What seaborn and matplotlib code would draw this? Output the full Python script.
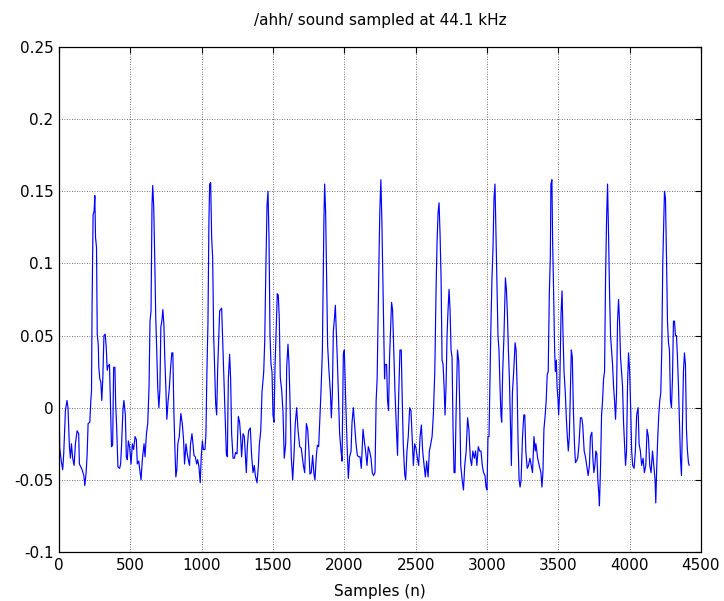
import matplotlib
matplotlib.use("Agg")
import matplotlib.pyplot as plt
import seaborn as sns
import pandas as pd

# ---- data (sample index, amplitude) ----
seg1_n = [0, 5, 16, 26, 33, 45, 56, 63, 73, 80,
          87, 96, 106, 115, 127, 138, 143, 162, 174, 181,
          190, 197, 204, 216, 223, 228, 232, 239, 246, 251,
          256, 263, 268, 275, 279, 286, 293, 300, 307, 315,
          324, 331, 338, 345, 354, 361, 368, 376, 383, 392,
          397, 404, 413, 425, 432, 439, 448, 455, 465, 472,
          479, 486, 495, 505, 514, 523, 533, 542, 549, 559,
          566, 575, 584, 596, 603, 613, 622, 631, 638, 645,
          652, 657, 664, 671, 678, 685, 692, 700, 707, 714,
          721, 728, 735, 742, 749, 756, 765, 772, 784, 791,
          798, 805, 812, 819, 826, 833, 843, 854, 864, 873,
          880, 890, 899, 906, 915, 922, 932, 939, 946, 955,
          965, 972, 981, 990, 997, 1005, 1012, 1023, 1030, 1037,
          1044, 1051, 1056, 1063, 1070, 1077, 1084, 1091, 1098, 1105,
          1112]
seg1_amp = [0.007, -0.028, -0.037, -0.043, -0.032, -0.002, 0.005, 0.0, -0.027, -0.035,
            -0.025, -0.035, -0.040, -0.025, -0.016, -0.018, -0.039, -0.043, -0.047, -0.054,
            -0.045, -0.033, -0.011, -0.010, 0.005, 0.012, 0.072, 0.134, 0.136, 0.147,
            0.118, 0.111, 0.051, 0.044, 0.028, 0.020, 0.018, 0.005, 0.020, 0.050,
            0.051, 0.042, 0.026, 0.029, 0.030, 0.002, -0.027, -0.026, 0.028, 0.028,
            0.003, -0.013, -0.041, -0.042, -0.039, -0.025, -0.002, 0.005, -0.005, -0.034,
            -0.036, -0.023, -0.027, -0.039, -0.025, -0.029, -0.020, -0.022, -0.039, -0.037,
            -0.043, -0.050, -0.036, -0.025, -0.034, -0.018, -0.011, 0.014, 0.060, 0.067,
            0.141, 0.154, 0.139, 0.104, 0.063, 0.040, 0.014, 0.000, 0.012, 0.056,
            0.060, 0.068, 0.058, 0.033, 0.014, -0.008, 0.005, 0.012, 0.030, 0.038,
            0.038, -0.002, -0.027, -0.048, -0.043, -0.025, -0.020, -0.004, -0.011, -0.022,
            -0.039, -0.025, -0.032, -0.036, -0.040, -0.025, -0.018, -0.025, -0.033, -0.034,
            -0.039, -0.036, -0.041, -0.052, -0.034, -0.023, -0.029, -0.029, -0.018, 0.026,
            0.058, 0.130, 0.155, 0.156, 0.118, 0.104, 0.051, 0.026, 0.003, -0.005,
            0.026]

seg2_n = [1126, 1140, 1147, 1154, 1164, 1173, 1180, 1187, 1196, 1203,
          1210, 1220, 1229, 1238, 1248, 1257, 1266, 1273, 1280, 1290,
          1299, 1306, 1313, 1320, 1329, 1341, 1350, 1360, 1369, 1376,
          1388, 1397, 1404, 1414, 1423, 1435, 1442, 1449, 1458, 1465,
          1472, 1479, 1486, 1493, 1500, 1507, 1514, 1523, 1530, 1537,
          1544, 1551, 1561, 1570, 1579, 1589, 1596, 1605, 1612, 1619,
          1628, 1638, 1647, 1656, 1666, 1675, 1687, 1698, 1713, 1722,
          1734, 1743, 1752, 1759, 1768, 1778, 1787, 1794, 1804, 1811,
          1820, 1827, 1836, 1846, 1853, 1857, 1862, 1869, 1876, 1883,
          1892, 1902, 1909, 1916, 1923, 1930, 1937, 1944, 1951, 1958,
          1967, 1977, 1984, 1993, 2000, 2009, 2019, 2028, 2037, 2047,
          2054, 2063, 2072, 2082, 2091, 2100, 2110, 2119, 2131, 2140,
          2149, 2159, 2168, 2177, 2187, 2196, 2205, 2215]
seg2_amp = [0.067, 0.069, 0.048, 0.025, -0.003, -0.032, -0.034, 0.020, 0.037, 0.020,
            -0.018, -0.035, -0.035, -0.031, -0.032, -0.006, -0.010, -0.020, -0.034, -0.018,
            -0.020, -0.033, -0.045, -0.027, -0.016, -0.014, -0.033, -0.045, -0.040, -0.047,
            -0.052, -0.041, -0.026, -0.016, 0.011, 0.025, 0.046, 0.091, 0.140, 0.150,
            0.117, 0.050, 0.030, 0.025, -0.005, -0.010, 0.028, 0.058, 0.079, 0.078,
            0.062, 0.021, 0.012, -0.003, -0.035, -0.025, 0.028, 0.044, 0.031, 0.005,
            -0.034, -0.050, -0.033, -0.011, 0.000, -0.015, -0.027, -0.028, -0.040, -0.045,
            -0.011, -0.015, -0.030, -0.046, -0.045, -0.033, -0.046, -0.050, -0.033, -0.026,
            -0.027, -0.010, 0.010, 0.039, 0.096, 0.131, 0.155, 0.135, 0.089, 0.043,
            0.026, 0.011, -0.007, 0.010, 0.053, 0.061, 0.071, 0.052, 0.033, 0.011,
            -0.018, -0.030, -0.037, 0.037, 0.040, 0.007, -0.025, -0.049, -0.034, -0.030,
            -0.010, 0.000, -0.012, -0.025, -0.033, -0.034, -0.034, -0.042, -0.015, -0.023,
            -0.030, -0.040, -0.027, -0.030, -0.035, -0.045, -0.047, -0.045]

seg3_n = [2223, 2230, 2237, 2244, 2249, 2256, 2263, 2270, 2277, 2282,
          2286, 2296, 2303, 2310, 2317, 2324, 2331, 2338, 2345, 2355,
          2364, 2373, 2380, 2390, 2399, 2406, 2413, 2423, 2430, 2439,
          2448, 2458, 2467, 2477, 2484, 2493, 2502, 2512, 2521, 2531,
          2540, 2549, 2559, 2568, 2577, 2587, 2596, 2606, 2615, 2624,
          2634, 2643, 2650, 2657, 2664, 2671, 2678, 2685, 2692, 2699,
          2706, 2713, 2720, 2727, 2734, 2741, 2748, 2755, 2762, 2769,
          2776, 2783, 2793, 2802, 2809, 2816, 2826, 2835, 2844, 2854,
          2864, 2873, 2883, 2892, 2901, 2911, 2920, 2929, 2939, 2948,
          2958, 2967, 2976, 2986, 2993, 3000, 3007, 3014, 3021, 3028,
          3035, 3042, 3049, 3056, 3063, 3070, 3077, 3084, 3091, 3098,
          3103, 3110, 3119, 3129, 3136, 3143, 3150, 3157, 3164, 3171,
          3178, 3187, 3197, 3204, 3211, 3218, 3225, 3232, 3239, 3249,
          3258, 3265, 3272, 3282, 3291, 3301, 3310, 3319, 3329, 3338]
seg3_amp = [0.005, 0.020, 0.065, 0.110, 0.137, 0.158, 0.130, 0.090, 0.050, 0.020,
            0.030, 0.030, 0.005, -0.002, 0.035, 0.055, 0.073, 0.068, 0.045, 0.011,
            -0.012, -0.033, 0.005, 0.040, 0.040, 0.005, -0.025, -0.046, -0.050, -0.030,
            -0.020, 0.000, -0.002, -0.025, -0.040, -0.025, -0.028, -0.035, -0.040, -0.020,
            -0.012, -0.030, -0.040, -0.048, -0.037, -0.048, -0.030, -0.025, -0.020, -0.005,
            0.025, 0.082, 0.115, 0.135, 0.142, 0.120, 0.090, 0.033, 0.030, 0.015,
            -0.005, 0.015, 0.050, 0.068, 0.082, 0.068, 0.040, 0.035, -0.015, -0.045,
            -0.045, -0.005, 0.040, 0.032, 0.000, -0.040, -0.050, -0.057, -0.040, -0.030,
            -0.007, -0.015, -0.035, -0.040, -0.030, -0.035, -0.030, -0.040, -0.027, -0.030,
            -0.030, -0.040, -0.045, -0.047, -0.055, -0.057, -0.020, -0.020, 0.020, 0.060,
            0.090, 0.110, 0.145, 0.155, 0.120, 0.085, 0.050, 0.040, 0.015, -0.005,
            -0.010, 0.025, 0.050, 0.090, 0.082, 0.065, 0.040, 0.020, -0.010, -0.040,
            0.010, 0.025, 0.045, 0.040, 0.015, -0.025, -0.050, -0.055, -0.050, -0.020,
            -0.005, -0.005, -0.030, -0.042, -0.040, -0.035, -0.040, -0.045, -0.020, -0.030]

seg4_n = [3343, 3355, 3366, 3378, 3385, 3392, 3399, 3408, 3415, 3422,
          3429, 3437, 3444, 3448, 3455, 3460, 3467, 3474, 3479, 3486,
          3491, 3498, 3502, 3509, 3519, 3526, 3533, 3540, 3549, 3556,
          3563, 3570, 3577, 3584, 3591, 3598, 3605, 3613, 3620, 3627,
          3636, 3645, 3655, 3664, 3671, 3681, 3690, 3699, 3709, 3718,
          3725, 3735, 3742, 3749, 3756, 3763, 3770, 3777, 3784, 3788,
          3796, 3803, 3810, 3817, 3824, 3831, 3838, 3845, 3852, 3859,
          3866, 3873, 3880, 3887, 3894, 3901, 3908, 3915, 3922, 3929,
          3936, 3943, 3950, 3957, 3964, 3971, 3978, 3985, 3992, 4000,
          4007, 4014, 4021, 4031, 4040, 4049, 4059, 4066, 4075, 4084,
          4094, 4103, 4113, 4122, 4131, 4141, 4150, 4160, 4169, 4178,
          4183, 4190, 4197, 4204, 4211, 4218, 4225, 4232, 4239, 4244,
          4251, 4258, 4265, 4272, 4279, 4286, 4293, 4300, 4307, 4314,
          4321, 4328, 4335, 4342, 4349, 4356, 4363, 4370, 4377, 4384,
          4391, 4398, 4405, 4412, 4417]
seg4_amp = [-0.025, -0.035, -0.040, -0.045, -0.055, -0.045, -0.015, -0.005, 0.005, 0.023,
            0.025, 0.080, 0.105, 0.155, 0.158, 0.115, 0.080, 0.040, 0.025, 0.033,
            0.015, 0.005, -0.005, 0.010, 0.065, 0.081, 0.050, 0.025, 0.010, -0.007,
            -0.020, -0.030, -0.020, 0.010, 0.040, 0.035, 0.000, -0.025, -0.038, -0.037,
            -0.035, -0.025, -0.007, -0.007, -0.012, -0.030, -0.034, -0.040, -0.047, -0.040,
            -0.020, -0.017, -0.035, -0.045, -0.040, -0.030, -0.032, -0.050, -0.060, -0.068,
            -0.040, -0.005, 0.005, 0.020, 0.025, 0.090, 0.130, 0.155, 0.120, 0.080,
            0.050, 0.040, 0.030, 0.015, 0.005, -0.008, 0.010, 0.060, 0.075, 0.060,
            0.035, 0.025, 0.015, -0.010, -0.025, -0.040, -0.030, 0.015, 0.038, 0.025,
            0.000, -0.030, -0.040, -0.042, -0.030, -0.005, 0.000, -0.025, -0.030, -0.040,
            -0.035, -0.045, -0.040, -0.015, -0.020, -0.040, -0.045, -0.030, -0.040, -0.050,
            -0.066, -0.040, -0.020, -0.005, 0.005, 0.010, 0.040, 0.100, 0.130, 0.150,
            0.145, 0.105, 0.060, 0.045, 0.040, 0.005, 0.000, 0.020, 0.060, 0.060,
            0.050, 0.050, 0.035, 0.015, -0.010, -0.035, -0.047, -0.010, 0.025, 0.038,
            0.030, -0.015, -0.030, -0.038, -0.040]

x_ticks = [0, 500, 1000, 1500, 2000, 2500, 3000, 3500, 4000, 4500]
y_ticks = [-0.1, -0.05, 0, 0.05, 0.1, 0.15, 0.2, 0.25]
y_tick_labels = ["-0.1", "-0.05", "0", "0.05", "0.1", "0.15", "0.2", "0.25"]

title_text = "/ahh/ sound sampled at 44.1 kHz"
xlabel_text = "Samples (n)"

# ---- build table ----
df = pd.DataFrame({
    "n": seg1_n + seg2_n + seg3_n + seg4_n,
    "amp": seg1_amp + seg2_amp + seg3_amp + seg4_amp,
})

sns.set_theme(style="white")
plt.rcParams["font.family"] = ["DejaVu Sans"]

fig = plt.figure(figsize=(7.24, 6.01), dpi=100)
ax = fig.add_axes([59 / 724, 1 - 552 / 601, (701 - 59) / 724, (552 - 47) / 601])

sns.lineplot(data=df, x="n", y="amp", ax=ax, sort=False, estimator=None,
             color="#0000ff", linewidth=0.85)

ax.set_xlim(0, 4500)
ax.set_ylim(-0.1, 0.25)
ax.set_xticks(x_ticks)
ax.set_xticklabels([str(t) for t in x_ticks])
ax.set_yticks(y_ticks)
ax.set_yticklabels(y_tick_labels)

ax.grid(True, linestyle=(0, (1, 2)), color="#404040", linewidth=0.6)
ax.set_axisbelow(True)
for s in ax.spines.values():
    s.set_visible(True)
    s.set_color("black")
    s.set_linewidth(0.9)

ax.tick_params(direction="in", length=4, width=0.8, colors="black",
               top=True, right=True, labelsize=11, pad=4)

ax.set_title(title_text, fontsize=11, pad=16, color="black")
ax.set_xlabel(xlabel_text, fontsize=11, labelpad=8, color="black")
ax.set_ylabel("")

fig.savefig("out.png", dpi=100)
